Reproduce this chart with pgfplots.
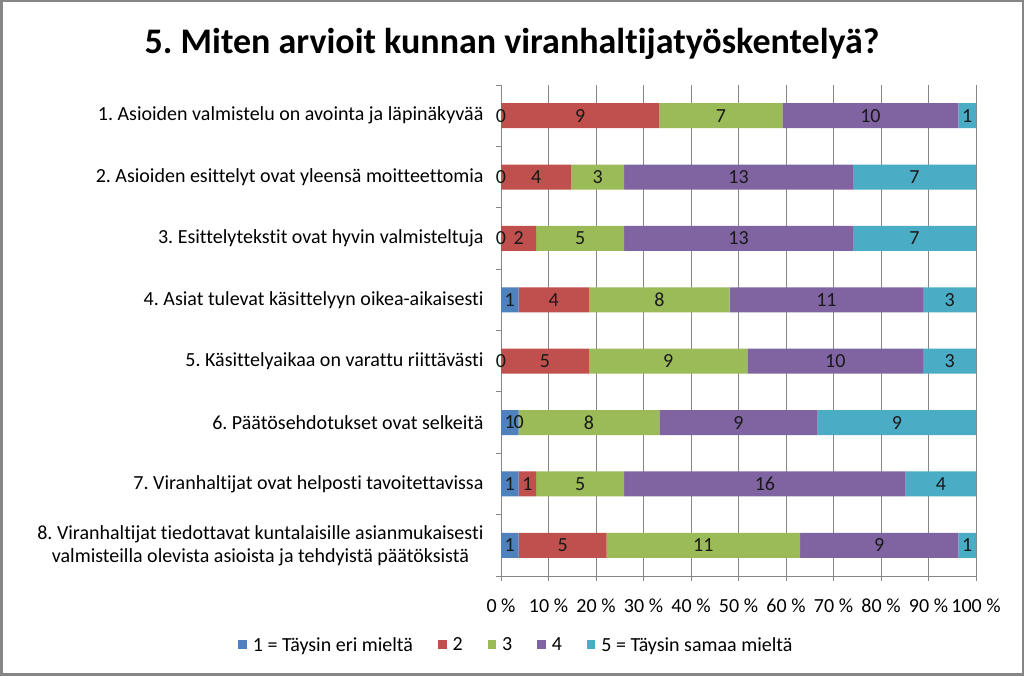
\documentclass[border=0pt]{standalone}
\usepackage{pgfplots}
\pgfplotsset{compat=1.18}
\usepackage{pgfplotstable}
\usepackage{fontspec}
\setmainfont{Carlito}[Ligatures=NoCommon]
\frenchspacing
\definecolor{cA}{HTML}{4F81BD}
\definecolor{cB}{HTML}{C0504D}
\definecolor{cC}{HTML}{9BBB59}
\definecolor{cD}{HTML}{8064A2}
\definecolor{cE}{HTML}{4BACC6}
\definecolor{frame}{HTML}{868686}
\definecolor{gridc}{HTML}{868686}
% y: position from bottom (category 1 at top)
\pgfplotstableread{
y c1 c2 c3 c4 c5
8 0 9 7 10 1
7 0 4 3 13 7
6 0 2 5 13 7
5 1 4 8 11 3
4 0 5 9 10 3
3 1 0 8 9 9
2 1 1 5 16 4
1 1 5 11 9 1
}\data
\newcommand{\tot}{(\thisrow{c1}+\thisrow{c2}+\thisrow{c3}+\thisrow{c4}+\thisrow{c5})}
\pgfplotsset{base/.style={scale only axis, width=475pt, height=491pt,
  at={(501pt,100pt)}, anchor=south west, xmin=0, xmax=100, ymin=0.5, ymax=8.5}}
\begin{document}
\frenchspacing
\begin{tikzpicture}[x=1pt,y=1pt]
\useasboundingbox (0,0) rectangle (1024,676);
\fill[white] (0,0) rectangle (1024,676);
\draw[line width=2.5pt, color=frame] (1.25,1.25) rectangle (1022.75,674.75);
\node[font=\bfseries\fontsize{36}{42}\selectfont] at (512,632) {5. Miten arvioit kunnan viranhaltijatyöskentelyä?};
\begin{axis}[base, xbar stacked, bar width=25pt,
  axis x line*=bottom, axis y line*=left,
  axis line style={draw=gridc, line width=0.9pt, -},
  xtick={0,10,...,100},
  xticklabels={0 \%,10 \%,20 \%,30 \%,40 \%,50 \%,60 \%,70 \%,80 \%,90 \%,100 \%},
  xmajorgrids, grid style={draw=gridc, line width=0.9pt},
  tick align=outside, major tick length=5pt, minor tick length=5pt,
  tick style={draw=gridc, line width=0.9pt},
  ytick={1,...,8},
  minor ytick={0.5,1.5,...,8.5},
  major y tick style={draw=none},
  yticklabels={{8. Viranhaltijat tiedottavat kuntalaisille asianmukaisesti\\valmisteilla olevista asioista ja tehdyistä päätöksistä},
    {7. Viranhaltijat ovat helposti tavoitettavissa},
    {6. Päätösehdotukset ovat selkeitä},
    {5. Käsittelyaikaa on varattu riittävästi},
    {4. Asiat tulevat käsittelyyn oikea-aikaisesti},
    {3. Esittelytekstit ovat hyvin valmisteltuja},
    {2. Asioiden esittelyt ovat yleensä moitteettomia},
    {1. Asioiden valmistelu on avointa ja läpinäkyvää}},
  yticklabel style={font=\fontsize{20}{23}\selectfont, align=center, xshift=-9pt},
  xticklabel style={font=\fontsize{20}{23}\selectfont, yshift=-14pt},
  legend style={draw=none, at={(0.0326,-0.1405)}, anchor=center,
    font=\fontsize{20}{23}\selectfont, legend columns=5,
    /tikz/every even column/.append style={column sep=23pt},
    /tikz/every odd column/.append style={column sep=4pt},
    legend cell align=left},
  legend image code/.code={\fill[#1] (0pt,-4pt) rectangle (8.5pt,4.5pt);},
]
\addplot[fill=cA, draw=none] table[x expr={\thisrow{c1}/\tot*100}, y=y]{\data};
\addlegendentry{1 = Täysin eri mieltä}
\addplot[fill=cB, draw=none] table[x expr={\thisrow{c2}/\tot*100}, y=y]{\data};
\addlegendentry{2}
\addplot[fill=cC, draw=none] table[x expr={\thisrow{c3}/\tot*100}, y=y]{\data};
\addlegendentry{3}
\addplot[fill=cD, draw=none] table[x expr={\thisrow{c4}/\tot*100}, y=y]{\data};
\addlegendentry{4}
\addplot[fill=cE, draw=none] table[x expr={\thisrow{c5}/\tot*100}, y=y]{\data};
\addlegendentry{5 = Täysin samaa mieltä}
\end{axis}
\begin{axis}[base, hide axis, clip=false,
  nodes near coords, point meta=explicit symbolic,
  every node near coord/.append style={anchor=center, font=\fontsize{20}{23}\selectfont, text=black!90}]
\addplot[draw=none, mark=none] table[x expr={\thisrow{c1}/2/\tot*100}, y=y, meta=c1]{\data};
\addplot[draw=none, mark=none] table[x expr={(\thisrow{c1}+\thisrow{c2}/2)/\tot*100}, y=y, meta=c2]{\data};
\addplot[draw=none, mark=none] table[x expr={(\thisrow{c1}+\thisrow{c2}+\thisrow{c3}/2)/\tot*100}, y=y, meta=c3]{\data};
\addplot[draw=none, mark=none] table[x expr={(\thisrow{c1}+\thisrow{c2}+\thisrow{c3}+\thisrow{c4}/2)/\tot*100}, y=y, meta=c4]{\data};
\addplot[draw=none, mark=none] table[x expr={(\thisrow{c1}+\thisrow{c2}+\thisrow{c3}+\thisrow{c4}+\thisrow{c5}/2)/\tot*100}, y=y, meta=c5]{\data};
\end{axis}
\end{tikzpicture}
\end{document}
